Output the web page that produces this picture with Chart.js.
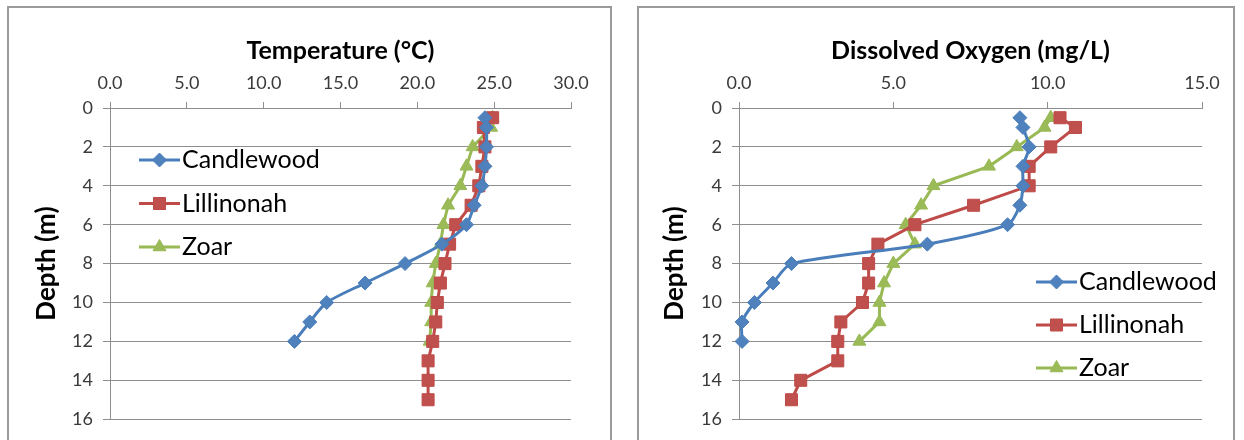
<!DOCTYPE html>
<html lang="en">
<head>
    <meta charset="UTF-8">
    <title>Lake Profiles - Temperature and Dissolved Oxygen</title>
    <script src="https://cdn.jsdelivr.net/npm/chart.js"></script>
    <style>
        body {
            margin: 0;
            width: 1244px;
            height: 440px;
            overflow: hidden;
            background-color: #ffffff;
            position: relative;
            font-family: Lato, sans-serif;
        }
        .frame {
            position: absolute;
            top: 6px;
            height: 450px;
            border: 2px solid #9a9a9a;
            box-sizing: border-box;
        }
        #frame-temp { left: 7px; width: 605px; }
        #frame-oxy { left: 637px; width: 598px; }
        canvas {
            position: absolute;
            top: 0;
        }
        #tempChart { left: 0; }
        #oxyChart { left: 620px; }
    </style>
</head>
<body>

<div class="frame" id="frame-temp"></div>
<div class="frame" id="frame-oxy"></div>
<canvas id="tempChart" width="620" height="440"></canvas>
<canvas id="oxyChart" width="624" height="440"></canvas>

<script>
    // lakes and sampling depths (m)
    const lakeNames = ['Candlewood', 'Lillinonah', 'Zoar'];
    const depthCandlewood = [0.5, 1, 2, 3, 4, 5, 6, 7, 8, 9, 10, 11, 12];
    const depthLillinonah = [0.5, 1, 2, 3, 4, 5, 6, 7, 8, 9, 10, 11, 12, 13, 14, 15];
    const depthZoar = [0.5, 1, 2, 3, 4, 5, 6, 7, 8, 9, 10, 11, 12];

    // temperature (°C)
    const tempCandlewood = [24.4, 24.5, 24.5, 24.4, 24.2, 23.7, 23.2, 21.6, 19.2, 16.6, 14.1, 13.0, 12.0];
    const tempLillinonah = [24.9, 24.3, 24.4, 24.2, 24.0, 23.5, 22.5, 22.1, 21.8, 21.5, 21.3, 21.2, 21.0, 20.7, 20.7, 20.7];
    const tempZoar = [24.9, 24.8, 23.6, 23.2, 22.8, 22.0, 21.7, 21.5, 21.2, 21.0, 20.9, 20.9, 20.8];

    // dissolved oxygen (mg/L)
    const oxyCandlewood = [9.1, 9.2, 9.4, 9.2, 9.2, 9.1, 8.7, 6.1, 1.7, 1.1, 0.5, 0.1, 0.1];
    const oxyLillinonah = [10.4, 10.9, 10.1, 9.4, 9.4, 7.6, 5.7, 4.5, 4.2, 4.2, 4.0, 3.3, 3.2, 3.2, 2.0, 1.7];
    const oxyZoar = [10.1, 9.9, 9.0, 8.1, 6.3, 5.9, 5.4, 5.7, 5.0, 4.7, 4.55, 4.55, 3.9];

    // tick labels
    const depthTicks = [0, 2, 4, 6, 8, 10, 12, 14, 16];
    const tempTicks = [0, 5, 10, 15, 20, 25, 30];
    const oxyTicks = [0, 5, 10, 15];

    const FONT = 'Lato';
    const gridColor = '#8e8e8e';
    const tickColor = '#3a3a3a';

    const styles = [
        { line: '#4A7EBB', fill: '#4F81BD', point: 'rectRot', radius: 7, tension: 0.25 },
        { line: '#BE4B48', fill: '#C0504D', point: 'rect', radius: 8.5, tension: 0 },
        { line: '#98B954', fill: '#9BBB59', point: 'triangle', radius: 7.5, tension: 0 }
    ];

    function pairs(xs, ys) {
        return xs.map((v, i) => ({ x: v, y: ys[i] }));
    }

    function makeDatasets(values, depths) {
        return lakeNames.map((name, i) => ({
            label: name,
            data: pairs(values[i], depths[i]),
            showLine: true,
            borderColor: styles[i].line,
            borderWidth: 3,
            tension: styles[i].tension,
            pointStyle: styles[i].point,
            pointRadius: styles[i].radius,
            pointBackgroundColor: styles[i].fill,
            pointBorderColor: styles[i].line,
            pointBorderWidth: 1,
            clip: false
        }));
    }

    // Excel style legend: short line with the marker in the middle
    const lineLegend = {
        id: 'lineLegend',
        afterDraw(chart, args, opts) {
            const ctx = chart.ctx;
            ctx.save();
            ctx.font = opts.fontSize + 'px ' + FONT;
            ctx.textBaseline = 'middle';
            chart.data.datasets.forEach((ds, i) => {
                const y = opts.y + i * opts.gap;
                ctx.strokeStyle = ds.borderColor;
                ctx.lineWidth = ds.borderWidth;
                ctx.beginPath();
                ctx.moveTo(opts.x, y);
                ctx.lineTo(opts.x + opts.len, y);
                ctx.stroke();
                ctx.fillStyle = ds.pointBackgroundColor;
                ctx.strokeStyle = ds.pointBorderColor;
                ctx.lineWidth = 1;
                Chart.helpers.drawPoint(ctx, {
                    pointStyle: ds.pointStyle, radius: ds.pointRadius, rotation: 0, borderWidth: 1
                }, opts.x + opts.len / 2, y);
                ctx.fillStyle = '#000';
                ctx.fillText(ds.label, opts.x + opts.len + 2, y);
            });
            ctx.restore();
        }
    };

    function makeChart(id, datasets, xTicks, xMax, xTitle, cfg) {
        return new Chart(document.getElementById(id), {
            type: 'scatter',
            data: { datasets: datasets },
            plugins: [lineLegend],
            options: {
                responsive: false,
                animation: false,
                events: [],
                layout: { padding: { left: 10, top: 20, right: cfg.padRight, bottom: 20 } },
                plugins: {
                    legend: { display: false },
                    tooltip: { enabled: false },
                    lineLegend: cfg.legend
                },
                scales: {
                    x: {
                        type: 'linear',
                        position: 'top',
                        min: 0,
                        max: xMax,
                        afterBuildTicks: s => { s.ticks = xTicks.map(v => ({ value: v })); },
                        afterFit: s => { s.height = 88; },
                        ticks: {
                            font: { family: FONT, size: 18 },
                            color: tickColor,
                            padding: 8,
                            callback: v => v.toFixed(1)
                        },
                        grid: { drawOnChartArea: false, color: gridColor, tickLength: 6 },
                        border: { color: gridColor, width: 1 },
                        title: {
                            display: true,
                            text: xTitle,
                            color: '#000',
                            font: { family: FONT, size: 25, weight: 'bold' },
                            padding: { top: 16, bottom: 0 }
                        }
                    },
                    y: {
                        type: 'linear',
                        reverse: true,
                        min: 0,
                        max: 16,
                        afterBuildTicks: s => { s.ticks = depthTicks.map(v => ({ value: v })); },
                        afterFit: s => { s.width = cfg.yWidth; },
                        ticks: {
                            font: { family: FONT, size: 18 },
                            color: tickColor,
                            padding: 10
                        },
                        grid: { color: gridColor, lineWidth: 1, tickLength: 7 },
                        border: { color: gridColor, width: 1 },
                        title: {
                            display: true,
                            text: 'Depth (m)',
                            color: '#000',
                            font: { family: FONT, size: 26, weight: 'bold' },
                            padding: { top: cfg.yTitlePad, bottom: 0 }
                        }
                    }
                }
            }
        });
    }

    makeChart('tempChart',
        makeDatasets([tempCandlewood, tempLillinonah, tempZoar], [depthCandlewood, depthLillinonah, depthZoar]),
        tempTicks, 30, 'Temperature (°C)',
        { padRight: 49, yWidth: 100, yTitlePad: 21, legend: { x: 139, y: 160, gap: 43.5, len: 41, fontSize: 25 } });

    makeChart('oxyChart',
        makeDatasets([oxyCandlewood, oxyLillinonah, oxyZoar], [depthCandlewood, depthLillinonah, depthZoar]),
        oxyTicks, 15, 'Dissolved Oxygen (mg/L)',
        { padRight: 42, yWidth: 109, yTitlePad: 29, legend: { x: 416, y: 282, gap: 43, len: 41, fontSize: 25 } });
</script>

</body>
</html>
